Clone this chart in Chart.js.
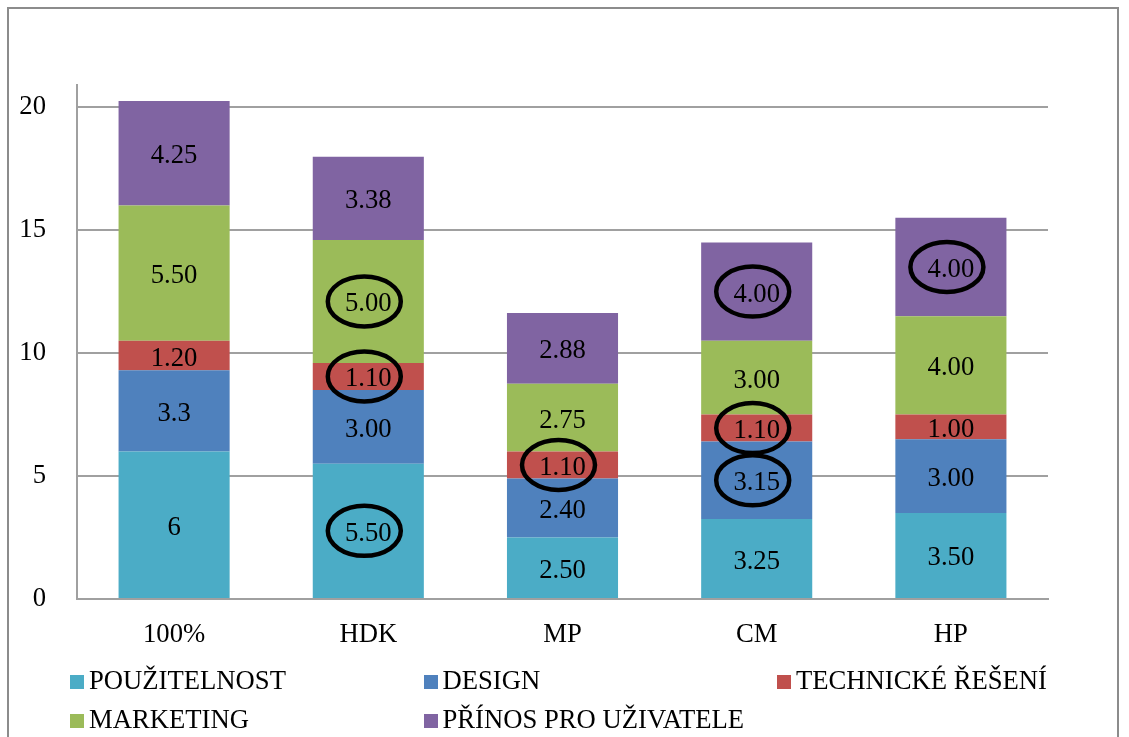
<!DOCTYPE html>
<html>
<head>
<meta charset="utf-8">
<title>Hodnocení</title>
<script src="https://cdn.jsdelivr.net/npm/chart.js@4/dist/chart.umd.min.js"></script>
<style>
  html, body { margin: 0; padding: 0; background: #fff; }
  #wrap { position: relative; width: 1129px; height: 737px; overflow: hidden; }
  #frame { position: absolute; left: 7px; top: 7px; width: 1112px; height: 800px;
           border: 2px solid #8c8c8c; box-sizing: border-box; }
  canvas { position: absolute; left: 0; top: 0; }
  #legend { position: absolute; left: 70px; top: 661px; display: grid;
            grid-template-columns: 353.5px 353.5px 353.5px;
            font-family: 'Liberation Serif', 'Times New Roman', serif; font-size: 26.67px;
            color: #000; }
  .item { display: flex; align-items: center; height: 39px; white-space: nowrap; }
  .box { width: 14px; height: 14px; margin-right: 5px; margin-top: 3px; flex: none; }
</style>
</head>
<body>
<div id="wrap">
  <div id="frame"></div>
  <canvas id="c" width="1129" height="737"></canvas>
  <div id="legend"></div>
</div>
<script>
// Categories and stacked series
const categories = ['100%', 'HDK', 'MP', 'CM', 'HP'];
const seriesNames = ['POUŽITELNOST', 'DESIGN', 'TECHNICKÉ ŘEŠENÍ', 'MARKETING', 'PŘÍNOS PRO UŽIVATELE'];
const pouzitelnost = [6, 5.5, 2.5, 3.25, 3.5];
const design = [3.3, 3.0, 2.4, 3.15, 3.0];
const technicke = [1.2, 1.1, 1.1, 1.1, 1.0];
const marketing = [5.5, 5.0, 2.75, 3.0, 4.0];
const prinos = [4.25, 3.38, 2.88, 4.0, 4.0];
const seriesColors = ['#4BACC6', '#4F81BD', '#C0504D', '#9BBB59', '#8064A2'];
// decimals shown in the first bar's labels (others use two)
const firstBarDecimals = [0, 1, 2, 2, 2];
// highlighted values: [series index, category index]
const circled = [[0, 1], [2, 1], [3, 1], [2, 2], [1, 3], [2, 3], [4, 3], [4, 4]];
const yTicks = [0, 5, 10, 15, 20];

const seriesValues = [pouzitelnost, design, technicke, marketing, prinos];
const FONT = "'Liberation Serif', 'Times New Roman', serif";
const FONT_SIZE = 26.67;

function labelText(si, ci) {
  const v = seriesValues[si][ci];
  const d = ci === 0 ? firstBarDecimals[si] : 2;
  return v.toFixed(d);
}

const valueLabels = {
  id: 'valueLabels',
  afterDatasetsDraw(chart) {
    const ctx = chart.ctx;
    ctx.save();
    ctx.font = FONT_SIZE + 'px ' + FONT;
    ctx.fillStyle = '#000';
    ctx.textAlign = 'center';
    ctx.textBaseline = 'middle';
    chart.data.datasets.forEach((ds, si) => {
      const meta = chart.getDatasetMeta(si);
      meta.data.forEach((bar, ci) => {
        const p = bar.getCenterPoint();
        ctx.fillText(labelText(si, ci), p.x, p.y + 3);
      });
    });
    ctx.strokeStyle = '#000';
    ctx.lineWidth = 4.5;
    circled.forEach(([si, ci]) => {
      const p = chart.getDatasetMeta(si).data[ci].getCenterPoint();
      ctx.beginPath();
      ctx.ellipse(p.x - 4, p.y, 36.5, 25, 0, 0, Math.PI * 2);
      ctx.stroke();
    });
    ctx.restore();
  }
};

const chart = new Chart(document.getElementById('c'), {
  type: 'bar',
  data: {
    labels: categories,
    datasets: seriesValues.map((vals, i) => ({
      label: seriesNames[i],
      data: vals,
      backgroundColor: seriesColors[i],
      borderWidth: 0,
      categoryPercentage: 1,
      barPercentage: 0.572
    }))
  },
  options: {
    responsive: false,
    animation: false,
    devicePixelRatio: 1,
    layout: { padding: { left: 0, right: 81, top: 85, bottom: 78 } },
    plugins: { legend: { display: false }, tooltip: { enabled: false } },
    scales: {
      x: {
        stacked: true,
        grid: { display: false, drawTicks: false },
        border: { display: true, color: '#a0a0a0', width: 2 },
        ticks: { font: { family: FONT, size: FONT_SIZE }, color: '#000', padding: 20 },
        afterFit(scale) { scale.height = 60; }
      },
      y: {
        stacked: true,
        min: 0,
        max: 20.9,
        afterBuildTicks(scale) { scale.ticks = yTicks.map(v => ({ value: v })); },
        grid: { color: '#a0a0a0', lineWidth: 2, drawTicks: false },
        border: { display: true, color: '#a0a0a0', width: 2 },
        ticks: { font: { family: FONT, size: FONT_SIZE }, color: '#000', padding: 31 },
        afterFit(scale) { scale.width = 77; }
      }
    }
  },
  plugins: [valueLabels]
});

// Legend in three fixed columns, built from the chart's datasets
const legend = document.getElementById('legend');
chart.data.datasets.forEach(ds => {
  const item = document.createElement('div');
  item.className = 'item';
  const box = document.createElement('span');
  box.className = 'box';
  box.style.background = ds.backgroundColor;
  const txt = document.createElement('span');
  txt.textContent = ds.label;
  item.appendChild(box);
  item.appendChild(txt);
  legend.appendChild(item);
});
</script>
</body>
</html>
